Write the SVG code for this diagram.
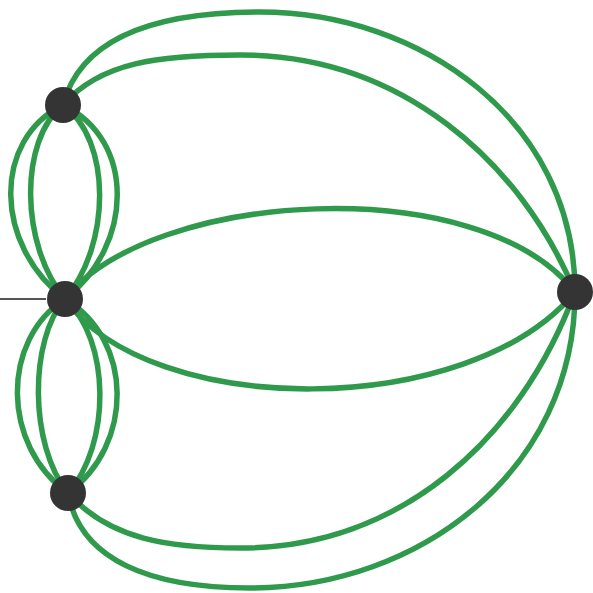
<svg xmlns="http://www.w3.org/2000/svg" width="593" height="593" viewBox="0 0 593 593">
<style>
.e{fill:none;stroke:#2f9a4b;stroke-width:5.5;stroke-linecap:round}
.n{fill:#333433}
</style>
<rect width="593" height="593" fill="#ffffff"/>
<line x1="0" y1="299" x2="46" y2="299" stroke="#555" stroke-width="2"/>
<g id="connectors">
<path class="e" d="M63,105 C -8,140 -6,245 65,299"/>
<path class="e" d="M63,105 C 19,140 20,245 65,299"/>
<path class="e" d="M63,105 C 112,140 111,245 65,299"/>
<path class="e" d="M63,105 C 136,140 134,245 65,299"/>
<path class="e" d="M65,299 C 1,340 1,445 68,493"/>
<path class="e" d="M65,299 C 29,340 29,445 68,493"/>
<path class="e" d="M65,299 C 111,340 111,445 68,493"/>
<path class="e" d="M65,299 C 134,340 134,445 68,493"/>
<path class="e" d="M63,105 C 80,40 150,12 260,12 C 420,12 575,120 575,292"/>
<path class="e" d="M63,105 C 100,62 160,55 240,55 C 400,55 520,160 575,292"/>
<path class="e" d="M65,299 C 150,190 480,170 575,292"/>
<path class="e" d="M65,299 C 150,420 470,420 575,292"/>
<path class="e" d="M68,493 C 110,540 170,548 240,548 C 400,548 520,440 575,292"/>
<path class="e" d="M68,493 C 80,560 150,588 250,588 C 420,588 575,470 575,292"/>
</g>
<g id="n1"><circle class="n" cx="63" cy="105" r="18"/></g>
<g id="n2"><circle class="n" cx="65" cy="299" r="18"/></g>
<g id="n3"><circle class="n" cx="68" cy="493" r="18"/></g>
<g id="n4"><circle class="n" cx="575" cy="292" r="18"/></g>
</svg>
